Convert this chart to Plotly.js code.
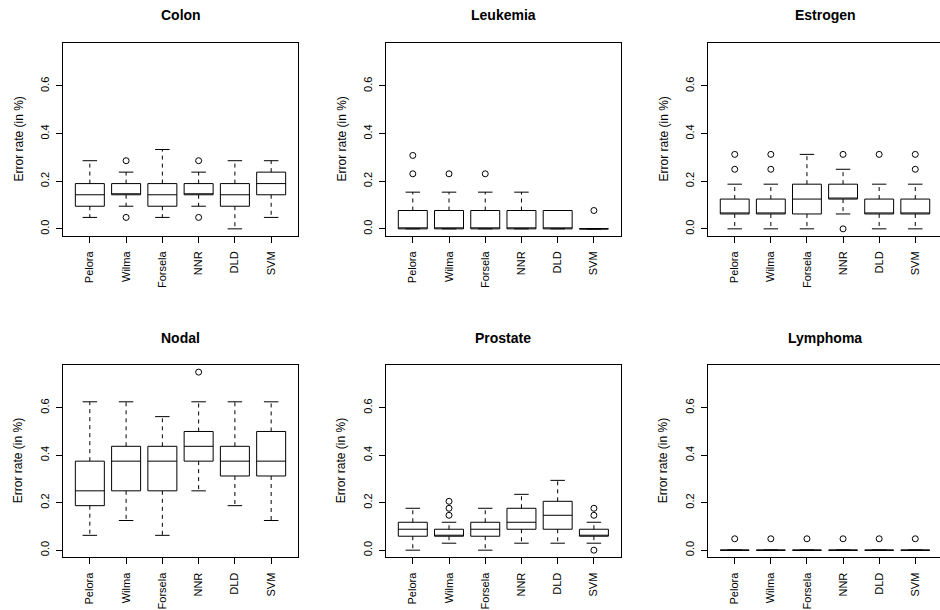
<!DOCTYPE html>
<html>
<head>
<meta charset="utf-8">
<script src="https://cdn.plot.ly/plotly-3.0.1.min.js"></script>
<style>
html, body { margin: 0; padding: 0; overflow: hidden; background: #fff; }
#chart { width: 944px; height: 610px; }
</style>
</head>
<body>
<div id="chart"></div>
<script>
// ---- Data ----
const methods = ["Pelora", "Wilma", "Forsela", "NNR", "DLD", "SVM"];
const panelTitles = ["Colon", "Leukemia", "Estrogen", "Nodal", "Prostate", "Lymphoma"];
const yTitle = "Error rate (in %)";
const yTickVals = [0, 0.2, 0.4, 0.6];
const yTickText = ["0.0", "0.2", "0.4", "0.6"];

// five-number summaries per method: lower whisker, Q1, median, Q3, upper whisker
const colonLow = [0.048, 0.095, 0.048, 0.095, 0.000, 0.048];
const colonQ1  = [0.095, 0.143, 0.095, 0.143, 0.095, 0.143];
const colonMed = [0.143, 0.143, 0.143, 0.143, 0.143, 0.190];
const colonQ3  = [0.190, 0.190, 0.190, 0.190, 0.190, 0.238];
const colonHigh= [0.286, 0.238, 0.333, 0.238, 0.286, 0.286];
const colonOut = [[], [0.048, 0.286], [], [0.048, 0.286], [], []];

const leukLow  = [0, 0, 0, 0, 0, 0];
const leukQ1   = [0, 0, 0, 0, 0, 0];
const leukMed  = [0, 0, 0, 0, 0, 0];
const leukQ3   = [0.077, 0.077, 0.077, 0.077, 0.077, 0];
const leukHigh = [0.154, 0.154, 0.154, 0.154, 0.077, 0];
const leukOut  = [[0.231, 0.308], [0.231], [0.231], [], [], [0.077]];

const estrLow  = [0, 0, 0, 0.0625, 0, 0];
const estrQ1   = [0.0625, 0.0625, 0.0625, 0.125, 0.0625, 0.0625];
const estrMed  = [0.0625, 0.0625, 0.125, 0.125, 0.0625, 0.0625];
const estrQ3   = [0.125, 0.125, 0.1875, 0.1875, 0.125, 0.125];
const estrHigh = [0.1875, 0.1875, 0.3125, 0.25, 0.1875, 0.1875];
const estrOut  = [[0.25, 0.3125], [0.25, 0.3125], [], [0, 0.3125], [0.3125], [0.25, 0.3125]];

const nodalLow  = [0.0625, 0.125, 0.0625, 0.25, 0.1875, 0.125];
const nodalQ1   = [0.1875, 0.25, 0.25, 0.375, 0.3125, 0.3125];
const nodalMed  = [0.25, 0.375, 0.375, 0.4375, 0.375, 0.375];
const nodalQ3   = [0.375, 0.4375, 0.4375, 0.5, 0.4375, 0.5];
const nodalHigh = [0.625, 0.625, 0.5625, 0.625, 0.625, 0.625];
const nodalOut  = [[], [], [], [0.75], [], []];

const prosLow  = [0, 0.0294, 0, 0.0294, 0.0294, 0.0294];
const prosQ1   = [0.0588, 0.0588, 0.0588, 0.0882, 0.0882, 0.0588];
const prosMed  = [0.0882, 0.0588, 0.0882, 0.1176, 0.147, 0.0588];
const prosQ3   = [0.1176, 0.0882, 0.1176, 0.1765, 0.2059, 0.0882];
const prosHigh = [0.1765, 0.1176, 0.1765, 0.2353, 0.2941, 0.1176];
const prosOut  = [[], [0.147, 0.1765, 0.2059], [], [], [], [0, 0.147, 0.1765]];

const lymLow  = [0, 0, 0, 0, 0, 0];
const lymQ1   = [0, 0, 0, 0, 0, 0];
const lymMed  = [0, 0, 0, 0, 0, 0];
const lymQ3   = [0, 0, 0, 0, 0, 0];
const lymHigh = [0, 0, 0, 0, 0, 0];
const lymOut  = [[0.048], [0.048], [0.048], [0.048], [0.048], [0.048]];

const panels = [
  [colonLow, colonQ1, colonMed, colonQ3, colonHigh, colonOut],
  [leukLow, leukQ1, leukMed, leukQ3, leukHigh, leukOut],
  [estrLow, estrQ1, estrMed, estrQ3, estrHigh, estrOut],
  [nodalLow, nodalQ1, nodalMed, nodalQ3, nodalHigh, nodalOut],
  [prosLow, prosQ1, prosMed, prosQ3, prosHigh, prosOut],
  [lymLow, lymQ1, lymMed, lymQ3, lymHigh, lymOut]
];

// ---- Layout geometry (pixels) ----
const W = 944, H = 610;
const colX = [[63, 298], [386, 620.7], [708, 942]];
const rowY = [[43, 236], [365, 557.3]];
const titleY = [15, 338];
const FONT = "Liberation Sans, Arial, Helvetica, sans-serif";

// y range like R: data range extended by 4%
let allVals = [];
panels.forEach(p => { allVals = allVals.concat(p[0], p[4]); p[5].forEach(o => allVals = allVals.concat(o)); });
const yMin = Math.min(...allVals), yMax = Math.max(...allVals);
const yPad = (yMax - yMin) * 0.04;
const yRange = [yMin - yPad, yMax + yPad];
const n = methods.length;
const xPad = n * 0.04;
const xRange = [0.5 - xPad, n + 0.5 + xPad];
const xs = methods.map((m, i) => i + 1);
const boxW = 0.8, capHalf = 0.2;

const traces = [];
const layout = {
  width: W, height: H,
  margin: {l: 0, r: 0, t: 0, b: 0},
  paper_bgcolor: "#fff", plot_bgcolor: "#fff",
  showlegend: false,
  font: {family: FONT, color: "#000"},
  annotations: []
};

panels.forEach((p, k) => {
  const r = Math.floor(k / 3), c = k % 3;
  const sfx = k === 0 ? "" : String(k + 1);
  const xa = "x" + sfx, ya = "y" + sfx;
  const [low, q1, med, q3, high, out] = p;

  layout["xaxis" + sfx] = {
    domain: [colX[c][0] / W, colX[c][1] / W],
    anchor: ya, range: xRange, fixedrange: true,
    tickmode: "array", tickvals: xs, ticktext: methods, tickangle: -90,
    ticks: "outside", ticklen: 6, tickwidth: 1, tickcolor: "#000",
    ticklabelstandoff: 4,
    tickfont: {family: FONT, size: 11, color: "#000"},
    showline: true, mirror: true, linecolor: "#000", linewidth: 1,
    showgrid: false, zeroline: false
  };
  layout["yaxis" + sfx] = {
    domain: [1 - rowY[r][1] / H, 1 - rowY[r][0] / H],
    anchor: xa, range: yRange, fixedrange: true,
    tickmode: "array", tickvals: yTickVals, ticktext: yTickText, tickangle: -90,
    ticks: "outside", ticklen: 6, tickwidth: 1, tickcolor: "#000",
    ticklabelstandoff: 3,
    tickfont: {family: FONT, size: 11, color: "#000"},
    showline: true, mirror: true, linecolor: "#000", linewidth: 1,
    showgrid: false, zeroline: false
  };

  // boxes + medians
  traces.push({
    type: "box", xaxis: xa, yaxis: ya, x: xs,
    q1: q1, median: med, q3: q3, lowerfence: q1, upperfence: q3,
    width: boxW, whiskerwidth: 0, boxpoints: false,
    fillcolor: "rgba(0,0,0,0)", line: {color: "#000", width: 1},
    hoverinfo: "skip"
  });

  // dashed whiskers
  const wx = [], wy = [];
  xs.forEach((x, i) => {
    if (high[i] > q3[i]) { wx.push(x, x, null); wy.push(q3[i], high[i], null); }
    if (low[i] < q1[i]) { wx.push(x, x, null); wy.push(q1[i], low[i], null); }
  });
  traces.push({
    type: "scatter", mode: "lines", xaxis: xa, yaxis: ya, x: wx, y: wy,
    line: {color: "#000", width: 1, dash: "4px,4px"}, hoverinfo: "skip", connectgaps: false
  });

  // staples (caps)
  const cx = [], cy = [];
  xs.forEach((x, i) => {
    cx.push(x - capHalf, x + capHalf, null); cy.push(high[i], high[i], null);
    cx.push(x - capHalf, x + capHalf, null); cy.push(low[i], low[i], null);
  });
  traces.push({
    type: "scatter", mode: "lines", xaxis: xa, yaxis: ya, x: cx, y: cy,
    line: {color: "#000", width: 1}, hoverinfo: "skip", connectgaps: false
  });

  // outliers
  const ox = [], oy = [];
  xs.forEach((x, i) => out[i].forEach(v => { ox.push(x); oy.push(v); }));
  traces.push({
    type: "scatter", mode: "markers", xaxis: xa, yaxis: ya, x: ox, y: oy,
    marker: {symbol: "circle-open", size: 6, color: "#000", line: {width: 1, color: "#000"}},
    hoverinfo: "skip", cliponaxis: false
  });

  // panel title
  layout.annotations.push({
    xref: "paper", yref: "paper",
    x: (colX[c][0] + colX[c][1]) / 2 / W, y: 1 - titleY[r] / H,
    xanchor: "center", yanchor: "middle", showarrow: false,
    text: "<b>" + panelTitles[k] + "</b>",
    font: {family: FONT, size: 14, color: "#000"}
  });
  // y axis title
  layout.annotations.push({
    xref: "paper", yref: "paper",
    x: (colX[c][0] - 45) / W, y: 1 - ((rowY[r][0] + rowY[r][1]) / 2) / H,
    xanchor: "center", yanchor: "middle", showarrow: false, textangle: -90,
    text: yTitle,
    font: {family: FONT, size: 12, color: "#000"}
  });
});

Plotly.newPlot("chart", traces, layout, {staticPlot: true, displayModeBar: false});
</script>
</body>
</html>
